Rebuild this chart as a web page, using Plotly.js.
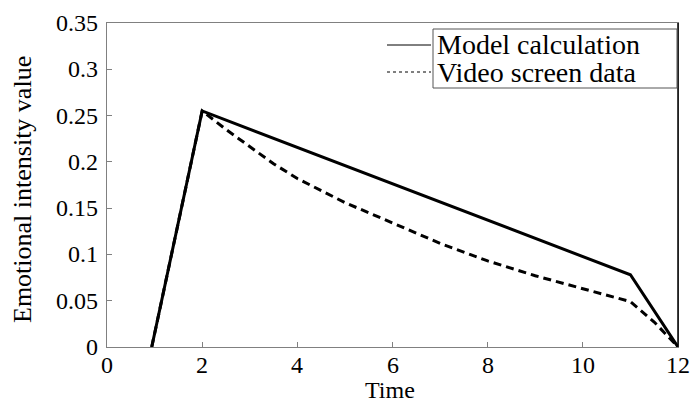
<!DOCTYPE html>
<html>
<head>
<meta charset="utf-8">
<script src="https://cdn.plot.ly/plotly-3.0.1.min.js"></script>
<style>
html,body{margin:0;padding:0;background:#fff;}
#chart{width:693px;height:404px;}
</style>
</head>
<body>
<div id="chart"></div>
<script>
const modelX = [0.94, 2, 11, 12];
const modelY = [0, 0.255, 0.078, 0];
const videoX = [0.94, 2, 2.5, 3, 3.5, 4, 5, 6, 7, 8, 9, 10, 10.6, 11, 11.5, 12];
const videoY = [0, 0.255, 0.235, 0.216, 0.198, 0.182, 0.156, 0.134, 0.112, 0.093, 0.077, 0.063, 0.055, 0.049, 0.027, 0];
const seriesNames = ["Model calculation", "Video screen data"];
const xTicks = [0, 2, 4, 6, 8, 10, 12];
const xTickText = ["0", "2", "4", "6", "8", "10", "12"];
const yTicks = [0, 0.05, 0.1, 0.15, 0.2, 0.25, 0.3, 0.35];
const yTickText = ["0", "0.05", "0.1", "0.15", "0.2", "0.25", "0.3", "0.35"];
const xTitle = "Time";
const yTitle = "Emotional intensity value";

const FONT = "Liberation Serif";
const TICKFONT = "Times New Roman";
const traces = [
  {x: modelX, y: modelY, mode: "lines", line: {color: "#000", width: 3}, showlegend: false, hoverinfo: "skip"},
  {x: videoX, y: videoY, mode: "lines", line: {color: "#000", width: 3, dash: "8px,5px"}, showlegend: false, hoverinfo: "skip"}
];
const P = (px) => (px - 107) / 571;
const Q = (py) => (347 - py) / 324;
const annotations = [];
xTicks.forEach((v, i) => annotations.push({
  text: xTickText[i], xref: "x", yref: "paper", x: v, y: 0, yshift: -18,
  xanchor: "center", yanchor: "middle", showarrow: false,
  font: {family: TICKFONT, size: 24, color: "rgb(0,0,0)"}
}));
yTicks.forEach((v, i) => annotations.push({
  text: yTickText[i], xref: "paper", yref: "y", x: 0, y: v, xshift: -7,
  xanchor: "right", yanchor: "middle", showarrow: false,
  font: {family: TICKFONT, size: 24, color: "rgb(0,0,0)"}
}));
annotations.push(
  {text: xTitle, xref: "paper", yref: "paper", x: P(390), y: Q(390), xanchor: "center", yanchor: "middle", showarrow: false, font: {family: FONT, size: 24, color: "black"}},
  {text: yTitle, xref: "paper", yref: "paper", x: P(22), y: Q(190), xanchor: "center", yanchor: "middle", textangle: -90, showarrow: false, font: {family: FONT, size: 26, color: "black"}},
  {text: seriesNames[0], xref: "paper", yref: "paper", x: P(435), y: Q(45), xanchor: "left", yanchor: "middle", showarrow: false, font: {family: FONT, size: 28, color: "black"}},
  {text: seriesNames[1], xref: "paper", yref: "paper", x: P(435), y: Q(72), xanchor: "left", yanchor: "middle", showarrow: false, font: {family: FONT, size: 28, color: "black"}}
);
const layout = {
  width: 693, height: 404,
  margin: {l: 107, r: 15, t: 23, b: 57},
  paper_bgcolor: "#fff", plot_bgcolor: "#fff",
  font: {family: FONT, size: 24, color: "black"},
  showlegend: false,
  xaxis: {
    range: [0, 12], tickvals: xTicks, showticklabels: false,
    showgrid: false, zeroline: false, showline: true, linecolor: "#808080", linewidth: 1,
    mirror: true, ticks: "inside", ticklen: 5, tickcolor: "#808080"
  },
  yaxis: {
    range: [0, 0.35], tickvals: yTicks, showticklabels: false,
    showgrid: false, zeroline: false, showline: true, linecolor: "#808080", linewidth: 1,
    mirror: true, ticks: "inside", ticklen: 5, tickcolor: "#808080"
  },
  shapes: [
    {type: "line", xref: "paper", yref: "paper", x0: 1, x1: 1, y0: 0, y1: 1, line: {color: "#000", width: 1.5}},
    {type: "rect", xref: "paper", yref: "paper", x0: P(433), x1: P(677), y0: Q(88), y1: Q(29), line: {color: "#555", width: 1}},
    {type: "line", xref: "paper", yref: "paper", x0: P(387), x1: P(431), y0: Q(45), y1: Q(45), line: {color: "#000", width: 1}},
    {type: "line", xref: "paper", yref: "paper", x0: P(387), x1: P(431), y0: Q(72), y1: Q(72), line: {color: "#000", width: 1, dash: "dot"}}
  ],
  annotations: annotations
};
Plotly.newPlot("chart", traces, layout, {staticPlot: true});
</script>
</body>
</html>
